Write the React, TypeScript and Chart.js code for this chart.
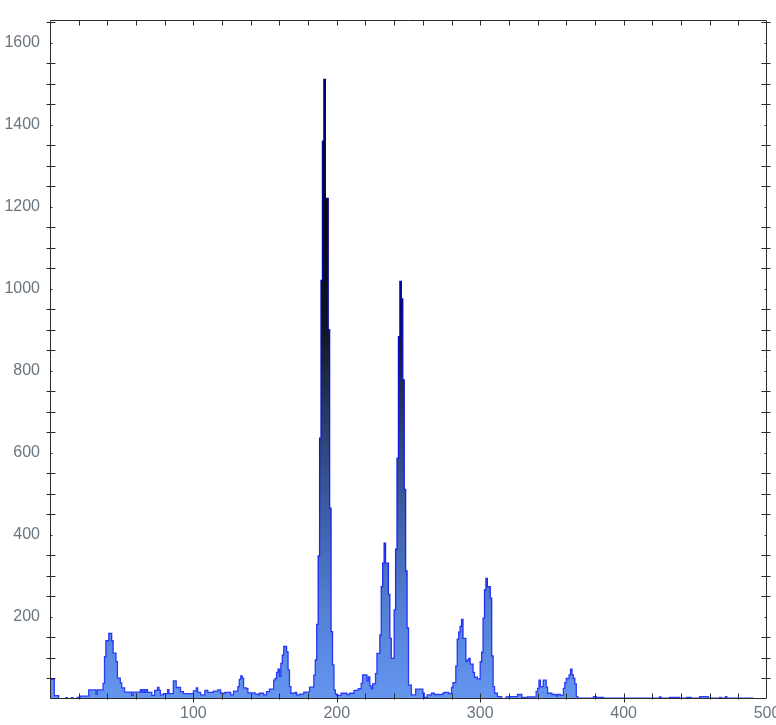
import { useEffect, useRef } from "react";
import { Chart, registerables } from "chart.js";

Chart.register(...registerables);

// Left edge of each bin run (x units) and the count holding until the next start
const binStart = [
  0, 3, 6, 11, 12, 15, 16, 19, 21, 27,
  32, 33, 37, 38, 39, 41, 43, 44, 46, 47,
  49, 50, 52, 57, 58, 63, 64, 65, 66, 67,
  68, 71, 73, 75, 76, 77, 79, 82, 83, 86,
  88, 91, 93, 100, 102, 103, 105, 108, 110, 114,
  117, 119, 122, 126, 128, 131, 132, 133, 134, 135,
  137, 138, 143, 145, 146, 149, 151, 153, 156, 157,
  158, 159, 160, 161, 162, 163, 165, 166, 167, 168,
  171, 172, 174, 177, 181, 184, 185, 186, 187, 188,
  189, 190, 191, 192, 194, 195, 196, 197, 198, 199,
  200, 203, 207, 209, 212, 215, 217, 218, 221, 222,
  223, 224, 225, 227, 228, 230, 231, 232, 233, 234,
  236, 237, 238, 240, 241, 242, 243, 244, 245, 246,
  247, 248, 249, 250, 252, 255, 260, 261, 263, 266,
  268, 274, 275, 278, 280, 281, 283, 284, 285, 286,
  287, 288, 290, 291, 292, 293, 295, 296, 298, 300,
  301, 302, 303, 304, 305, 307, 308, 309, 310, 312,
  315, 318, 320, 326, 329, 333, 339, 340, 341, 342,
  344, 346, 347, 350, 353, 354, 356, 358, 359, 360,
  362, 363, 364, 365, 366, 367, 368, 379, 381, 386,
  425, 426, 432, 439, 444, 447, 453, 459, 467, 468,
  471, 472, 490,
];

const binCount = [
  48, 8, 0, 3, 0, 3, 0, 4, 7, 22,
  12, 22, 38, 103, 142, 160, 142, 112, 91, 51,
  39, 27, 17, 9, 17, 23, 16, 23, 16, 23,
  16, 9, 21, 28, 21, 10, 13, 23, 13, 44,
  28, 18, 13, 20, 27, 16, 10, 21, 16, 19,
  22, 14, 16, 10, 19, 30, 48, 56, 51, 27,
  25, 15, 12, 10, 14, 10, 18, 24, 46, 50,
  65, 73, 55, 87, 107, 128, 115, 71, 30, 14,
  16, 10, 12, 17, 29, 58, 95, 182, 349, 636,
  1020, 1360, 1510, 1220, 900, 465, 164, 83, 22, 12,
  9, 14, 11, 14, 21, 25, 38, 59, 44, 54,
  32, 25, 37, 62, 111, 156, 274, 331, 380, 331,
  255, 148, 99, 217, 365, 587, 883, 1018, 975, 778,
  511, 312, 173, 34, 10, 24, 14, 4, 10, 14,
  11, 14, 16, 13, 28, 40, 80, 146, 163, 177,
  194, 148, 91, 95, 99, 85, 65, 53, 49, 91,
  114, 197, 266, 294, 274, 246, 105, 30, 14, 6,
  1, 5, 6, 11, 4, 5, 18, 26, 46, 30,
  46, 29, 14, 11, 7, 11, 9, 26, 40, 50,
  59, 73, 59, 50, 37, 6, 2, 6, 4, 2,
  5, 2, 4, 2, 4, 2, 6, 2, 4, 2,
  6, 2, 0,
];

const xTickLabels = [100, 200, 300, 400, 500];
const yTickLabels = [200, 400, 600, 800, 1000, 1200, 1400, 1600];

const X_MIN = 0;
const X_MAX = 500;
const Y_MIN = 0;
const Y_MAX = 1655;

const fillStops: [number, string][] = [
  [0, "rgb(100,150,240)"],
  [0.122, "rgb(85,130,215)"],
  [0.248, "rgb(65,100,175)"],
  [0.367, "rgb(48,72,128)"],
  [0.55, "rgb(15,20,35)"],
  [0.7, "rgb(8,8,16)"],
  [1, "rgb(0,0,10)"],
];

const lineStops: [number, string][] = [
  [0, "rgb(45,60,248)"],
  [0.3, "rgb(20,30,240)"],
  [0.5, "rgb(10,10,200)"],
  [0.7, "rgb(0,0,150)"],
  [1, "rgb(0,0,110)"],
];

function makeGradient(stops: [number, string][], fallback: string) {
  return (c: any) => {
    const chart = c.chart;
    if (!chart.chartArea) return fallback;
    const y = chart.scales.y;
    const g = chart.ctx.createLinearGradient(0, y.getPixelForValue(Y_MIN), 0, y.getPixelForValue(Y_MAX));
    stops.forEach(([o, col]) => g.addColorStop(o, col));
    return g;
  };
}

const framePlugin = {
  id: "mmaFrame",
  afterDatasetsDraw(chart: any) {
    const { ctx, chartArea: a, scales } = chart;
    const xs = scales.x;
    const ys = scales.y;
    ctx.save();
    ctx.strokeStyle = "#2b2b2b";
    ctx.lineWidth = 1;
    const L = Math.round(a.left) + 0.5;
    const R = Math.round(a.right) - 0.5;
    const T = Math.round(a.top) + 0.5;
    const B = Math.round(a.bottom) - 0.5;
    ctx.beginPath();
    ctx.rect(L, T, R - L, B - T);
    ctx.stroke();
    ctx.beginPath();
    for (let v = 20; v < X_MAX; v += 20) {
      const px = Math.round(xs.getPixelForValue(v)) + 0.5;
      const major = v % 100 === 0;
      ctx.moveTo(px, B - 5);
      ctx.lineTo(px, B + (major ? 4 : 1));
      ctx.moveTo(px, T);
      ctx.lineTo(px, T + 5);
    }
    for (let v = 50; v < Y_MAX; v += 50) {
      const py = Math.round(ys.getPixelForValue(v)) + 0.5;
      const major = v % 200 === 0;
      if (major) {
        ctx.moveTo(L, py);
        ctx.lineTo(L + 2, py);
        ctx.moveTo(R - 2, py);
        ctx.lineTo(R, py);
      } else {
        ctx.moveTo(L - 4, py);
        ctx.lineTo(L + 5, py);
        ctx.moveTo(R - 5, py);
        ctx.lineTo(R + 4, py);
      }
    }
    ctx.stroke();
    ctx.restore();
  },
};

export default function App() {
  const ref = useRef<HTMLCanvasElement>(null);
  useEffect(() => {
    document.body.style.margin = "0";
    const tickFont = { family: "'Liberation Sans', Arial, sans-serif", size: 16 };
    const tickColor = "#6b757e";
    const chart = new Chart(ref.current as HTMLCanvasElement, {
      type: "line",
      data: {
        datasets: [
          {
            data: binStart.map((x, i) => ({ x, y: binCount[i] })),
            stepped: true,
            fill: "origin",
            borderWidth: 1.3,
            pointRadius: 0,
            borderColor: makeGradient(lineStops, "rgb(40,55,250)"),
            backgroundColor: makeGradient(fillStops, "rgb(100,150,240)"),
          } as any,
        ],
      },
      options: {
        responsive: false,
        animation: false,
        layout: { padding: { top: 20, right: 9, left: 0, bottom: 0 }, autoPadding: false } as any,
        plugins: { legend: { display: false }, tooltip: { enabled: false } },
        scales: {
          x: {
            type: "linear",
            min: X_MIN,
            max: X_MAX,
            grid: { display: false, drawTicks: false },
            border: { display: false },
            afterBuildTicks: (s: any) => {
              s.ticks = xTickLabels.map((v) => ({ value: v }));
            },
            afterFit: (s: any) => {
              s.height = 26;
              s.paddingLeft = 0;
              s.paddingRight = 0;
            },
            ticks: {
              font: tickFont,
              color: tickColor,
              padding: 5,
              maxRotation: 0,
              autoSkip: false,
              callback: (v: any) => String(v),
            },
          },
          y: {
            type: "linear",
            min: Y_MIN,
            max: Y_MAX,
            grid: { display: false, drawTicks: false },
            border: { display: false },
            afterBuildTicks: (s: any) => {
              s.ticks = yTickLabels.map((v) => ({ value: v }));
            },
            afterFit: (s: any) => {
              s.width = 50;
              s.paddingTop = 0;
              s.paddingBottom = 0;
            },
            ticks: {
              font: tickFont,
              color: tickColor,
              padding: 10,
              autoSkip: false,
              callback: (v: any) => String(v),
            },
          },
        },
      },
      plugins: [framePlugin],
    });
    return () => chart.destroy();
  }, []);
  return <canvas ref={ref} width={776} height={725} style={{ display: "block" }} />;
}
